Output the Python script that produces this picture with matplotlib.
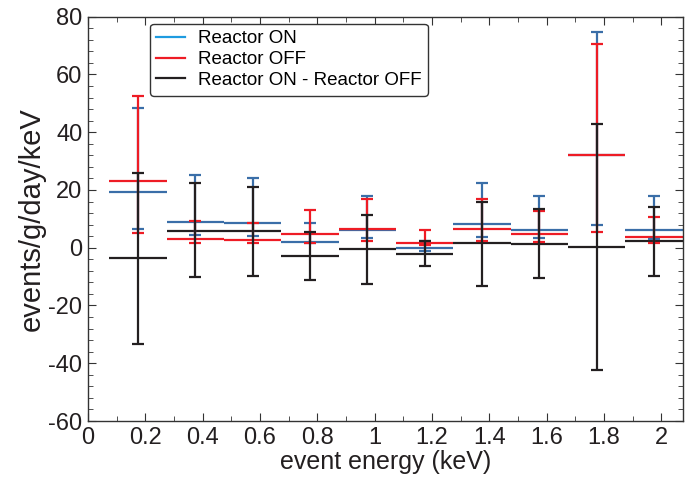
import numpy as np
import matplotlib.pyplot as plt
from matplotlib.lines import Line2D
from matplotlib.ticker import MultipleLocator

plt.rcParams['font.family'] = ['Liberation Sans', 'DejaVu Sans']
plt.rcParams['axes.unicode_minus'] = False

# bin centres (keV), bin width 0.2
energy = [0.175, 0.375, 0.575, 0.775, 0.975, 1.175, 1.375, 1.575, 1.775, 1.975]

on_val = [19.4, 9.0, 8.6, 1.9, 6.1, 0.0, 8.1, 6.1, 32.2, 6.0]
on_hi = [48.5, 25.3, 24.0, 8.5, 17.9, 2.5, 22.5, 18.0, 74.7, 18.0]
on_lo = [6.6, 4.3, 4.0, 1.5, 3.2, -1.0, 3.7, 3.2, 7.8, 3.1]

off_val = [23.1, 3.0, 2.7, 4.7, 6.4, 1.8, 6.6, 4.7, 32.2, 3.7]
off_hi = [52.6, 9.2, 8.5, 13.0, 16.8, 6.2, 16.8, 12.8, 70.7, 10.6]
off_lo = [5.2, 1.7, 1.5, 1.8, 2.4, 1.1, 2.3, 2.0, 5.4, 1.8]

diff_val = [-3.7, 5.9, 5.7, -2.9, -0.6, -2.0, 1.5, 1.2, 0.1, 2.4]
diff_hi = [25.8, 22.3, 21.1, 5.3, 11.4, 2.4, 15.9, 13.3, 42.8, 14.2]
diff_lo = [-33.4, -10.2, -9.7, -11.1, -12.5, -6.3, -13.1, -10.6, -42.4, -9.7]

half = 0.1

fig = plt.figure(figsize=(6.96, 4.87), dpi=100)
ax = fig.add_axes([0.1264, 0.1355, 0.8546, 0.8302])

series = [
    (on_val, on_lo, on_hi, '#3a6ea8'),
    (off_val, off_lo, off_hi, '#ee1c25'),
    (diff_val, diff_lo, diff_hi, '#231f20'),
]
for val, lo, hi, col in series:
    x = np.array(energy)
    v = np.array(val)
    ax.hlines(v, x - half, x + half, colors=col, lw=1.6, zorder=2)
    yerr = [v - np.array(lo), np.array(hi) - v]
    ax.errorbar(x, v, yerr=yerr, fmt='none', ecolor=col, elinewidth=1.6,
                capsize=4, capthick=1.6, zorder=3)

ax.set_xlim(0, 2.075)
ax.set_ylim(-60, 80)
ax.xaxis.set_minor_locator(MultipleLocator(0.1))
ax.yaxis.set_major_locator(MultipleLocator(20))
ax.yaxis.set_minor_locator(MultipleLocator(4))
ax.set_xticks([0, 0.2, 0.4, 0.6, 0.8, 1.0, 1.2, 1.4, 1.6, 1.8, 2.0])
ax.set_xticklabels(['0', '0.2', '0.4', '0.6', '0.8', '1', '1.2', '1.4', '1.6', '1.8', '2'])

ax.tick_params(which='both', direction='in', top=True, right=True,
               colors='#333333', labelcolor='#231f20')
ax.tick_params(which='major', length=6, labelsize=17, pad=4)
ax.tick_params(which='minor', length=3.5)
for sp in ax.spines.values():
    sp.set_color('#333333')
    sp.set_linewidth(1.0)

ax.set_xlabel('event energy (keV)', fontsize=18, color='#231f20', labelpad=1)
ax.set_ylabel('events/g/day/keV', fontsize=21, color='#231f20', labelpad=2)

handles = [
    Line2D([], [], color='#1e9be0', lw=1.6),
    Line2D([], [], color='#ee1c25', lw=1.6),
    Line2D([], [], color='#231f20', lw=1.6),
]
labels = ['Reactor ON', 'Reactor OFF', 'Reactor ON - Reactor OFF']
leg = ax.legend(handles, labels, loc='upper left', bbox_to_anchor=(0.104, 0.983),
                borderaxespad=0, fontsize=13.5, handlelength=1.5, handletextpad=0.7,
                labelspacing=0.2, borderpad=0.35, fancybox=True, framealpha=1)
leg.get_frame().set_edgecolor('#333333')
leg.get_frame().set_linewidth(1.0)

fig.savefig('out.png', dpi=100)
